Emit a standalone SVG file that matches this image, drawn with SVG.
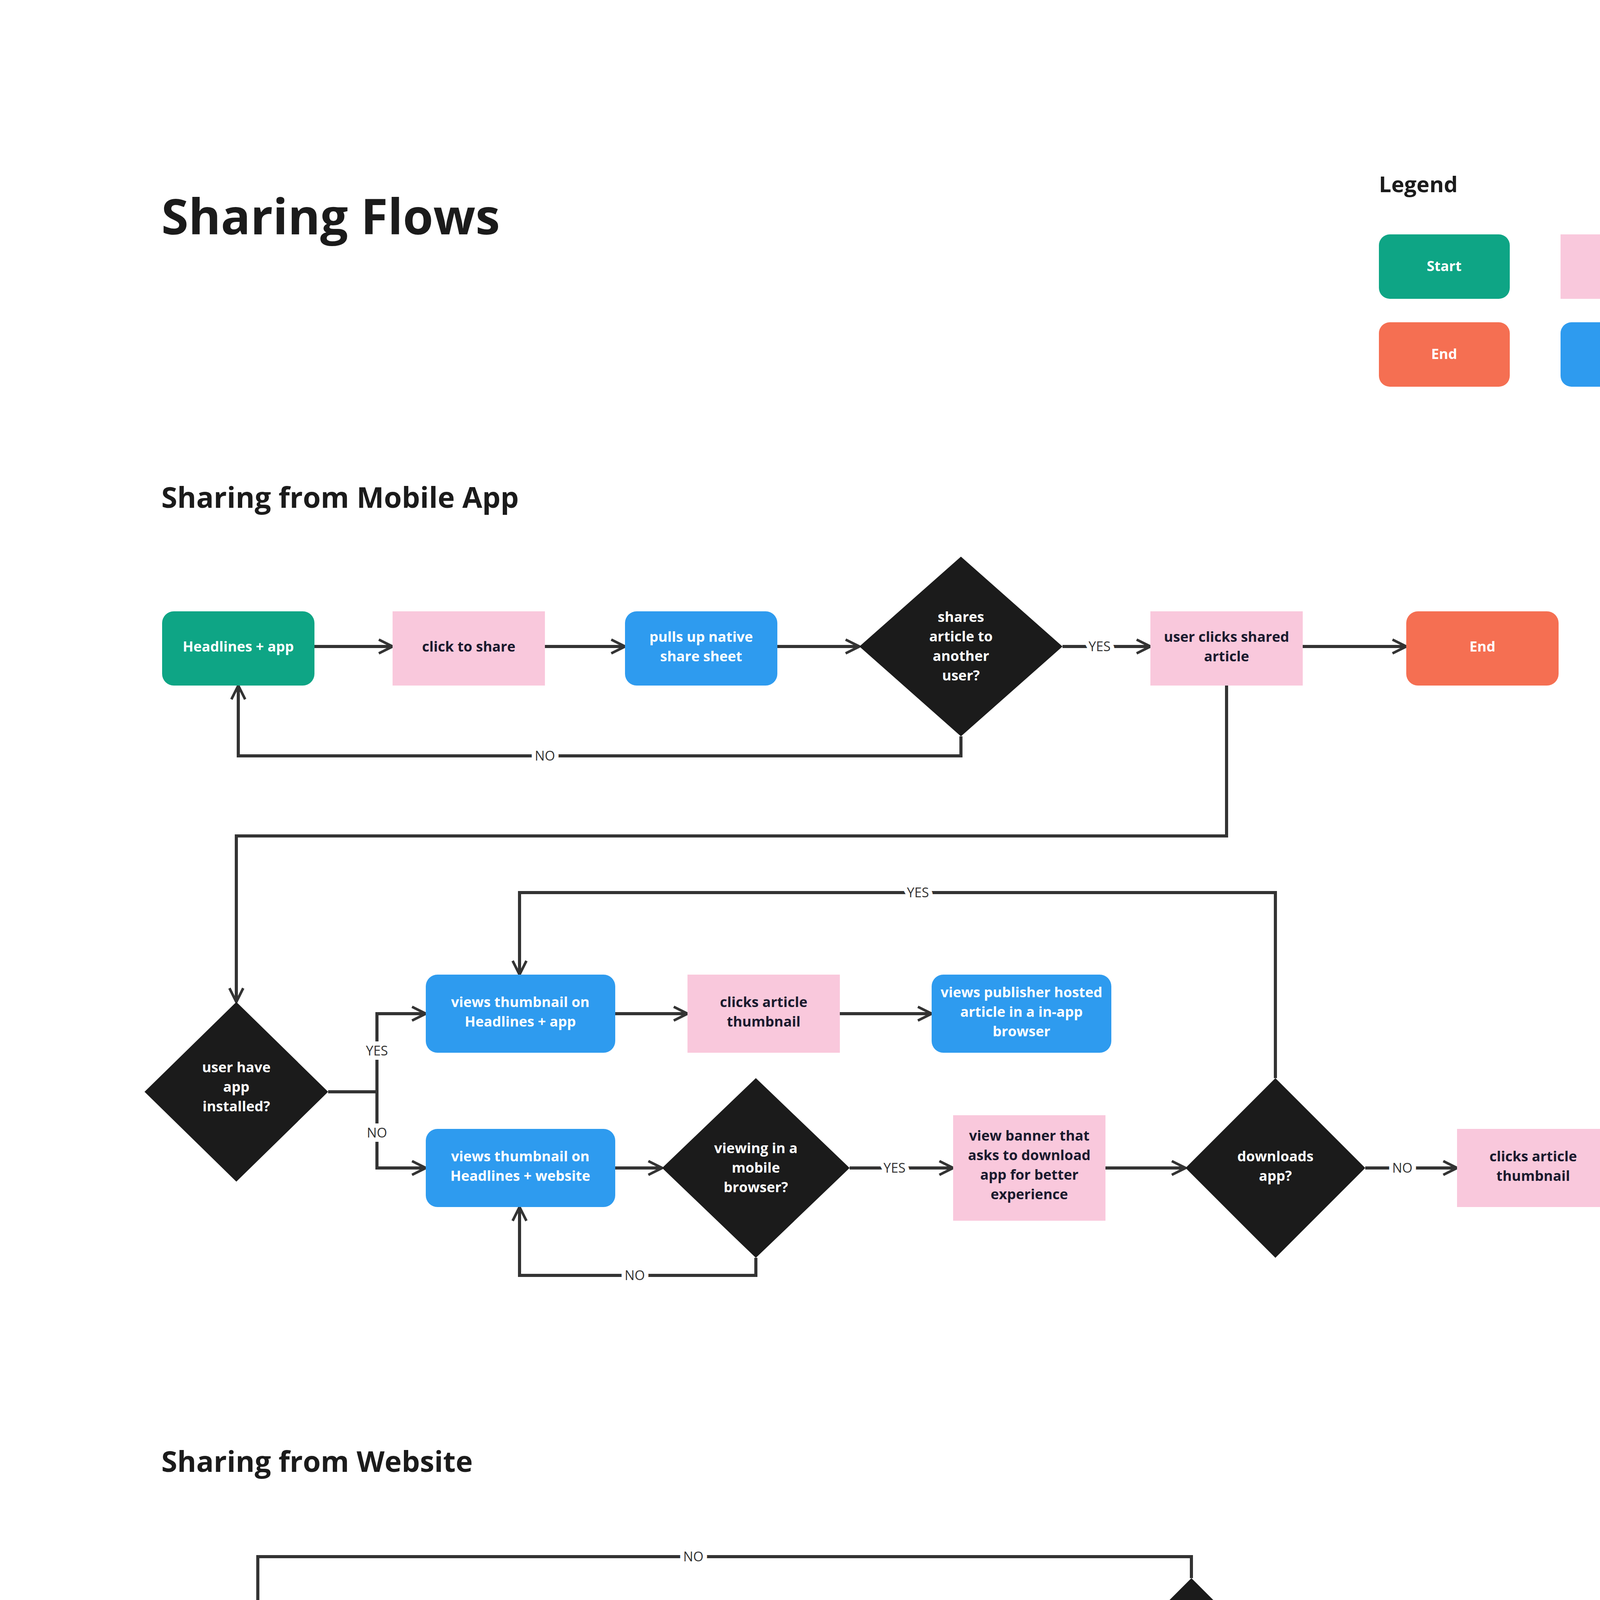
<svg xmlns="http://www.w3.org/2000/svg" width="5116" height="7757" viewBox="0 0 5116 7757">
<defs>
<marker id="ah" viewBox="0 0 20 20" refX="19" refY="10" markerWidth="44" markerHeight="44" markerUnits="userSpaceOnUse" orient="auto">
<path d="M3,2 L19,10 L3,18" fill="none" stroke="#333" stroke-width="3"/>
</marker>
<style>
.g{fill:#0ea585}.p{fill:#f9c8dc}.b{fill:#2e9bef}.o{fill:#f56f52}.d{fill:#1b1b1b}
text{font-family:"Open Sans","Liberation Sans",sans-serif;font-weight:700;text-anchor:middle}
.w{fill:#fff;font-size:36px}.k{fill:#1a1a2e;font-size:36px}
.h{fill:#1b1b1b;text-anchor:start}
.c path{fill:none;stroke:#333;stroke-width:8;marker-end:url(#ah)}
.c path.n{marker-end:none}
.l{font-weight:400;font-size:34px;fill:#333;paint-order:stroke;stroke:#fff;stroke-width:22px}
</style>
</defs>
<rect width="5116" height="7757" fill="#fff"/>
<text class="h" x="413" y="600" font-size="126">Sharing Flows</text>
<text class="h" x="3530" y="492" font-size="56">Legend</text>
<text class="h" x="413" y="1300" font-size="74">Sharing from Mobile App</text>
<text class="h" x="413" y="3768" font-size="74">Sharing from Website</text>
<text class="h" x="413" y="6272" font-size="74">Sharing from Widget</text>

<g id="legend">
<g id="lg-start"><rect class="g" x="3530" y="600" width="335" height="165" rx="28"/><text class="w" x="3697" y="694">Start</text></g>
<g id="lg-action"><rect class="p" x="3995" y="600" width="330" height="165"/><text class="k" x="4160" y="694">Action</text></g>
<g id="lg-end"><rect class="o" x="3530" y="825" width="335" height="165" rx="28"/><text class="w" x="3697" y="919">End</text></g>
<g id="lg-result"><rect class="b" x="3995" y="825" width="330" height="165" rx="28"/><text class="w" x="4160" y="919">Result</text></g>
<g id="lg-decision"><polygon class="d" points="4610,600 4805,795 4610,990 4415,795"/><text class="w" x="4610" y="808">Decision</text></g>
</g>

<g class="c" id="connectors">
<path d="M805,1655 H1005"/>
<path d="M1395,1655 H1600"/>
<path d="M1990,1655 H2200"/>
<path d="M2720,1655 H2945"/>
<path d="M3335,1655 H3600"/>
<path d="M2460,1885 V1935 H610 V1755"/>
<path d="M3140,1755 V2140 H605 V2565"/>
<path class="n" d="M840,2795 H965"/>
<path d="M965,2795 V2595 H1090"/>
<path d="M965,2795 V2990 H1090"/>
<path d="M1575,2595 H1760"/>
<path d="M2150,2595 H2385"/>
<path d="M1575,2990 H1695"/>
<path d="M2175,2990 H2440"/>
<path d="M2830,2990 H3035"/>
<path d="M3495,2990 H3730"/>
<path d="M4120,2990 H4310"/>
<path d="M3265,2760 V2285 H1330 V2495"/>
<path d="M1935,3220 V3265 H1330 V3090"/>

<path d="M875,4285 H1095"/>
<path d="M1525,4285 H1805"/>
<path d="M2230,4285 H2805"/>
<path d="M3050,4040 V3985 H660 V4180"/>
<path d="M3050,4530 V4695 H735 V4860"/>
<path class="n" d="M2015,4395 V4462"/>
<path d="M975,5105 H1285"/>
<path d="M1715,5105 H2020"/>
<path d="M2450,5105 H2840"/>
<path d="M730,5350 V5535"/>

<path d="M840,6840 H1055"/>
<path d="M1485,6840 H1705"/>
<path d="M2130,6840 H2355"/>
<path d="M2600,6595 V6410 H3030"/>
<path d="M2600,7085 V7295 H3035"/>
<path d="M3455,7295 H3685"/>
</g>
<g id="labels">
<text class="l" x="2815" y="1667">YES</text>
<text class="l" x="1395" y="1947">NO</text>
<text class="l" x="965" y="2702">YES</text>
<text class="l" x="965" y="2912">NO</text>
<text class="l" x="2350" y="2297">YES</text>
<text class="l" x="1625" y="3277">NO</text>
<text class="l" x="2290" y="3002">YES</text>
<text class="l" x="3590" y="3002">NO</text>
<text class="l" x="1775" y="3997">NO</text>
<text class="l" x="1755" y="4707">YES</text>
<text class="l" x="1120" y="5117">YES</text>
<text class="l" x="730" y="5447">NO</text>
<text class="l" x="2830" y="6422">YES</text>
<text class="l" x="2815" y="7307">NO</text>
</g>
<circle cx="2015" cy="4475" r="13" fill="#fff" stroke="#333" stroke-width="7"/>
<text x="2015" y="4527" font-size="32" fill="#e8452c">sharing via social media is</text>
<text x="2015" y="4577" font-size="32" fill="#e8452c">not available on the web</text>

<g id="n1"><rect class="g" x="415" y="1565" width="390" height="190" rx="30"/><text class="w" x="610" y="1668">Headlines + app</text></g>
<g id="n2"><rect class="p" x="1005" y="1565" width="390" height="190"/><text class="k" x="1200" y="1668">click to share</text></g>
<g id="n3"><rect class="b" x="1600" y="1565" width="390" height="190" rx="30"/><text class="w" x="1795" y="1643">pulls up native</text><text class="w" x="1795" y="1693">share sheet</text></g>
<g id="n4"><polygon class="d" points="2460,1425 2720,1655 2460,1885 2200,1655"/><text class="w" x="2460" y="1592">shares</text><text class="w" x="2460" y="1642">article to</text><text class="w" x="2460" y="1692">another</text><text class="w" x="2460" y="1742">user?</text></g>
<g id="n5"><rect class="p" x="2945" y="1565" width="390" height="190"/><text class="k" x="3140" y="1643">user clicks shared</text><text class="k" x="3140" y="1693">article</text></g>
<g id="n6"><rect class="o" x="3600" y="1565" width="390" height="190" rx="30"/><text class="w" x="3795" y="1668">End</text></g>

<g id="n7"><polygon class="d" points="605,2565 840,2795 605,3025 370,2795"/><text class="w" x="605" y="2745">user have</text><text class="w" x="605" y="2795">app</text><text class="w" x="605" y="2845">installed?</text></g>
<g id="n8"><rect class="b" x="1090" y="2495" width="485" height="200" rx="30"/><text class="w" x="1332" y="2578">views thumbnail on</text><text class="w" x="1332" y="2628">Headlines + app</text></g>
<g id="n9"><rect class="p" x="1760" y="2495" width="390" height="200"/><text class="k" x="1955" y="2578">clicks article</text><text class="k" x="1955" y="2628">thumbnail</text></g>
<g id="n10"><rect class="b" x="2385" y="2495" width="460" height="200" rx="30"/><text class="w" x="2615" y="2553">views publisher hosted</text><text class="w" x="2615" y="2603">article in a in-app</text><text class="w" x="2615" y="2653">browser</text></g>
<g id="n11"><rect class="b" x="1090" y="2890" width="485" height="200" rx="30"/><text class="w" x="1332" y="2973">views thumbnail on</text><text class="w" x="1332" y="3023">Headlines + website</text></g>
<g id="n12"><polygon class="d" points="1935,2760 2175,2990 1935,3220 1695,2990"/><text class="w" x="1935" y="2952">viewing in a</text><text class="w" x="1935" y="3002">mobile</text><text class="w" x="1935" y="3052">browser?</text></g>
<g id="n13"><rect class="p" x="2440" y="2855" width="390" height="270"/><text class="k" x="2635" y="2920">view banner that</text><text class="k" x="2635" y="2970">asks to download</text><text class="k" x="2635" y="3020">app for better</text><text class="k" x="2635" y="3070">experience</text></g>
<g id="n14"><polygon class="d" points="3265,2760 3495,2990 3265,3220 3035,2990"/><text class="w" x="3265" y="2973">downloads</text><text class="w" x="3265" y="3023">app?</text></g>
<g id="n15"><rect class="p" x="3730" y="2890" width="390" height="200"/><text class="k" x="3925" y="2973">clicks article</text><text class="k" x="3925" y="3023">thumbnail</text></g>
<g id="n16"><rect class="b" x="4310" y="2890" width="390" height="200" rx="30"/><text class="w" x="4505" y="2948">view publisher</text><text class="w" x="4505" y="2998">hosted article in a</text><text class="w" x="4505" y="3048">new tab</text></g>

<g id="n17"><rect class="g" x="445" y="4180" width="430" height="215" rx="30"/><text class="w" x="660" y="4297">Headlines + website</text></g>
<g id="n18"><rect class="p" x="1095" y="4180" width="430" height="215"/><text class="k" x="1310" y="4297">click to share</text></g>
<g id="n19"><rect class="b" x="1805" y="4180" width="425" height="215" rx="30"/><text class="w" x="2017" y="4247">pulls up default</text><text class="w" x="2017" y="4297">sharing options for</text><text class="w" x="2017" y="4347">web</text></g>
<g id="n20"><polygon class="d" points="3050,4040 3295,4285 3050,4530 2805,4285"/><text class="w" x="3050" y="4222">shares</text><text class="w" x="3050" y="4272">article to</text><text class="w" x="3050" y="4322">another</text><text class="w" x="3050" y="4372">user?</text></g>
<g id="n21"><polygon class="d" points="730,4860 975,5105 730,5350 485,5105"/><text class="w" x="730" y="5067">user opens</text><text class="w" x="730" y="5117">article from</text><text class="w" x="730" y="5167">share?</text></g>
<g id="n22"><rect class="b" x="1285" y="4995" width="430" height="215" rx="30"/><text class="w" x="1500" y="5090">views thumbnail on</text><text class="w" x="1500" y="5140">Headlines + website</text></g>
<g id="n23"><rect class="p" x="2020" y="4995" width="430" height="215"/><text class="k" x="2235" y="5090">clicks article</text><text class="k" x="2235" y="5140">thumbnail</text></g>
<g id="n24"><rect class="b" x="2840" y="4995" width="430" height="215" rx="30"/><text class="w" x="3055" y="5062">view publisher</text><text class="w" x="3055" y="5112">hosted article in a</text><text class="w" x="3055" y="5162">new tab</text></g>
<g id="n25"><rect class="o" x="535" y="5535" width="395" height="195" rx="30"/><text class="w" x="732" y="5645">End</text></g>

<g id="n26"><rect class="g" x="415" y="6735" width="425" height="210" rx="30"/><text class="w" x="627" y="6822">Recommendation</text><text class="w" x="627" y="6872">Widget</text></g>
<g id="n27"><rect class="p" x="1055" y="6735" width="430" height="210"/><text class="k" x="1270" y="6852">clicks article</text></g>
<g id="n28"><rect class="b" x="1705" y="6735" width="425" height="210" rx="30"/><text class="w" x="1917" y="6852">Headlines + website</text></g>
<g id="n29"><polygon class="d" points="2600,6595 2845,6840 2600,7085 2355,6840"/><text class="w" x="2600" y="6827">click article</text><text class="w" x="2600" y="6877">thumbnail?</text></g>
<g id="n30"><rect class="b" x="3030" y="6310" width="565" height="210" rx="30"/><text class="w" x="3312" y="6397">view publisher hosted</text><text class="w" x="3312" y="6447">article in a new tab</text></g>
<g id="n31"><rect class="b" x="3035" y="7190" width="420" height="215" rx="30"/><text class="w" x="3245" y="7282">stay on Headlines +</text><text class="w" x="3245" y="7332">website</text></g>
<g id="n32"><rect class="o" x="3685" y="7200" width="395" height="195" rx="30"/><text class="w" x="3882" y="7310">End</text></g>
</svg>
